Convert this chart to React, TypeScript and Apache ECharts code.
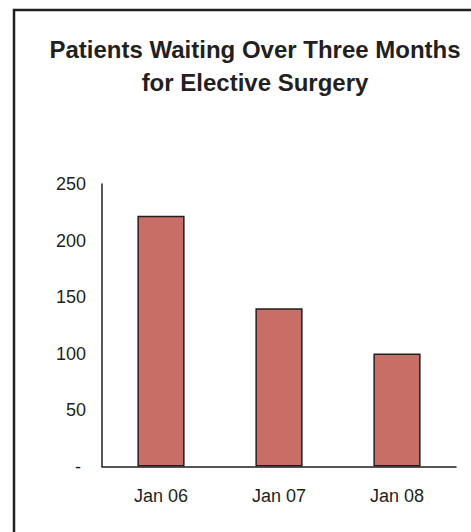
import React, { useEffect, useRef } from "react";
import * as echarts from "echarts";

const categories = ["Jan 06", "Jan 07", "Jan 08"];
const patientsWaiting = [222, 140, 100];
const titleLines = ["Patients Waiting Over Three Months", "for Elective Surgery"];

const FONT = "'Liberation Sans', Arial, sans-serif";
const INK = "#231f20";

export default function App() {
  const ref = useRef<HTMLDivElement>(null);
  useEffect(() => {
    if (!ref.current) return;
    const chart = echarts.init(ref.current, null, { renderer: "svg" });
    chart.setOption({
      animation: false,
      backgroundColor: "#ffffff",
      graphic: [
        {
          type: "rect",
          shape: { x: 14, y: 10, width: 480, height: 540 },
          style: { fill: "none", stroke: INK, lineWidth: 2.5 },
          silent: true,
        },
        {
          type: "text",
          x: 255,
          y: 49.5,
          style: {
            text: titleLines[0],
            textAlign: "center",
            textVerticalAlign: "middle",
            font: `bold 24px ${FONT}`,
            fill: INK,
          },
        },
        {
          type: "text",
          x: 255,
          y: 82.5,
          style: {
            text: titleLines[1],
            textAlign: "center",
            textVerticalAlign: "middle",
            font: `bold 24px ${FONT}`,
            fill: INK,
          },
        },
      ],
      grid: { left: 102, right: 15, top: 184, bottom: 65.5, containLabel: false },
      xAxis: {
        type: "category",
        data: categories,
        axisLine: { show: true, lineStyle: { color: INK, width: 1.5 } },
        axisTick: { show: false },
        axisLabel: { color: INK, fontSize: 18, fontFamily: FONT, margin: 20 },
        splitLine: { show: false },
      },
      yAxis: {
        type: "value",
        min: 0,
        max: 250,
        interval: 50,
        axisLine: { show: true, lineStyle: { color: INK, width: 1.5 } },
        axisTick: { show: false },
        splitLine: { show: false },
        axisLabel: {
          color: INK,
          fontSize: 18,
          fontFamily: FONT,
          margin: 16,
          formatter: (v: number) => (v === 0 ? "- " : String(v)),
        },
      },
      series: [
        {
          type: "bar",
          data: patientsWaiting,
          barWidth: "40%",
          itemStyle: { color: "#c86e67", borderColor: INK, borderWidth: 1.5 },
        },
      ],
    });
    return () => chart.dispose();
  }, []);
  return (
    <div
      ref={ref}
      style={{ position: "absolute", left: 0, top: 0, width: 471, height: 532 }}
    />
  );
}
